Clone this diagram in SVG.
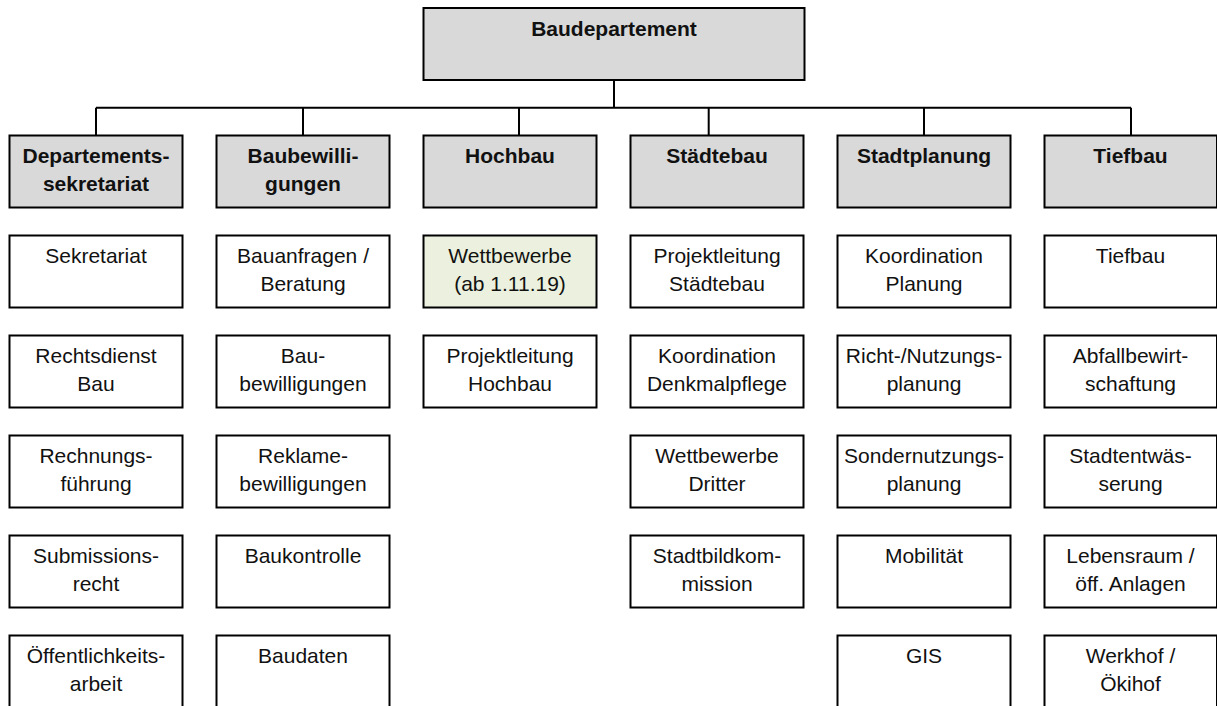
<svg xmlns="http://www.w3.org/2000/svg" width="1217" height="706" viewBox="0 0 1217 706">
<style>
.b{fill:#fff;stroke:#000;stroke-width:2}
.h{fill:#d9d9d9;stroke:#000;stroke-width:2}
.g{fill:#ebf1de;stroke:#000;stroke-width:2}
text{font-family:"Liberation Sans",Arial,sans-serif;font-size:21px;fill:#111;text-anchor:middle}
.t{font-weight:bold}
.c{fill:none;stroke:#000;stroke-width:2}
</style>
<rect width="1217" height="706" fill="#fff"/>
<g id="connectors">
<path class="c" d="M614 80V107.7M96 107.7H1131M96 107.7V135.5M303 107.7V135.5M519 107.7V135.5M708.7 107.7V135.5M924 107.7V135.5M1131 107.7V135.5"/>
</g>
<g id="root"><rect class="h" x="423.5" y="8" width="381" height="72"/><text class="t" x="614" y="36">Baudepartement</text></g>

<g id="h1"><rect class="h" x="9.5" y="135.5" width="173" height="72"/><text class="t" x="96" y="163">Departements-</text><text class="t" x="96" y="191">sekretariat</text></g>
<g id="h2"><rect class="h" x="216.5" y="135.5" width="173" height="72"/><text class="t" x="303" y="163">Baubewilli-</text><text class="t" x="303" y="191">gungen</text></g>
<g id="h3"><rect class="h" x="423.5" y="135.5" width="173" height="72"/><text class="t" x="510" y="163">Hochbau</text></g>
<g id="h4"><rect class="h" x="630.5" y="135.5" width="173" height="72"/><text class="t" x="717" y="163">Städtebau</text></g>
<g id="h5"><rect class="h" x="837.5" y="135.5" width="173" height="72"/><text class="t" x="924" y="163">Stadtplanung</text></g>
<g id="h6"><rect class="h" x="1044.5" y="135.5" width="172.5" height="72"/><text class="t" x="1130.5" y="163">Tiefbau</text></g>

<g id="c1r1"><rect class="b" x="9.5" y="235.5" width="173" height="72"/><text x="96" y="263">Sekretariat</text></g>
<g id="c1r2"><rect class="b" x="9.5" y="335.5" width="173" height="72"/><text x="96" y="363">Rechtsdienst</text><text x="96" y="391">Bau</text></g>
<g id="c1r3"><rect class="b" x="9.5" y="435.5" width="173" height="72"/><text x="96" y="463">Rechnungs-</text><text x="96" y="491">führung</text></g>
<g id="c1r4"><rect class="b" x="9.5" y="535.5" width="173" height="72"/><text x="96" y="563">Submissions-</text><text x="96" y="591">recht</text></g>
<g id="c1r5"><rect class="b" x="9.5" y="635.5" width="173" height="74"/><text x="96" y="663">Öffentlichkeits-</text><text x="96" y="691">arbeit</text></g>

<g id="c2r1"><rect class="b" x="216.5" y="235.5" width="173" height="72"/><text x="303" y="263">Bauanfragen /</text><text x="303" y="291">Beratung</text></g>
<g id="c2r2"><rect class="b" x="216.5" y="335.5" width="173" height="72"/><text x="303" y="363">Bau-</text><text x="303" y="391">bewilligungen</text></g>
<g id="c2r3"><rect class="b" x="216.5" y="435.5" width="173" height="72"/><text x="303" y="463">Reklame-</text><text x="303" y="491">bewilligungen</text></g>
<g id="c2r4"><rect class="b" x="216.5" y="535.5" width="173" height="72"/><text x="303" y="563">Baukontrolle</text></g>
<g id="c2r5"><rect class="b" x="216.5" y="635.5" width="173" height="74"/><text x="303" y="663">Baudaten</text></g>

<g id="c3r1"><rect class="g" x="423.5" y="235.5" width="173" height="72"/><text x="510" y="263">Wettbewerbe</text><text x="510" y="291">(ab 1.11.19)</text></g>
<g id="c3r2"><rect class="b" x="423.5" y="335.5" width="173" height="72"/><text x="510" y="363">Projektleitung</text><text x="510" y="391">Hochbau</text></g>

<g id="c4r1"><rect class="b" x="630.5" y="235.5" width="173" height="72"/><text x="717" y="263">Projektleitung</text><text x="717" y="291">Städtebau</text></g>
<g id="c4r2"><rect class="b" x="630.5" y="335.5" width="173" height="72"/><text x="717" y="363">Koordination</text><text x="717" y="391">Denkmalpflege</text></g>
<g id="c4r3"><rect class="b" x="630.5" y="435.5" width="173" height="72"/><text x="717" y="463">Wettbewerbe</text><text x="717" y="491">Dritter</text></g>
<g id="c4r4"><rect class="b" x="630.5" y="535.5" width="173" height="72"/><text x="717" y="563">Stadtbildkom-</text><text x="717" y="591">mission</text></g>

<g id="c5r1"><rect class="b" x="837.5" y="235.5" width="173" height="72"/><text x="924" y="263">Koordination</text><text x="924" y="291">Planung</text></g>
<g id="c5r2"><rect class="b" x="837.5" y="335.5" width="173" height="72"/><text x="924" y="363">Richt-/Nutzungs-</text><text x="924" y="391">planung</text></g>
<g id="c5r3"><rect class="b" x="837.5" y="435.5" width="173" height="72"/><text x="924" y="463">Sondernutzungs-</text><text x="924" y="491">planung</text></g>
<g id="c5r4"><rect class="b" x="837.5" y="535.5" width="173" height="72"/><text x="924" y="563">Mobilität</text></g>
<g id="c5r5"><rect class="b" x="837.5" y="635.5" width="173" height="74"/><text x="924" y="663">GIS</text></g>

<g id="c6r1"><rect class="b" x="1044.5" y="235.5" width="172.5" height="72"/><text x="1130.5" y="263">Tiefbau</text></g>
<g id="c6r2"><rect class="b" x="1044.5" y="335.5" width="172.5" height="72"/><text x="1130.5" y="363">Abfallbewirt-</text><text x="1130.5" y="391">schaftung</text></g>
<g id="c6r3"><rect class="b" x="1044.5" y="435.5" width="172.5" height="72"/><text x="1130.5" y="463">Stadtentwäs-</text><text x="1130.5" y="491">serung</text></g>
<g id="c6r4"><rect class="b" x="1044.5" y="535.5" width="172.5" height="72"/><text x="1130.5" y="563">Lebensraum /</text><text x="1130.5" y="591">öff. Anlagen</text></g>
<g id="c6r5"><rect class="b" x="1044.5" y="635.5" width="172.5" height="74"/><text x="1130.5" y="663">Werkhof /</text><text x="1130.5" y="691">Ökihof</text></g>
</svg>
